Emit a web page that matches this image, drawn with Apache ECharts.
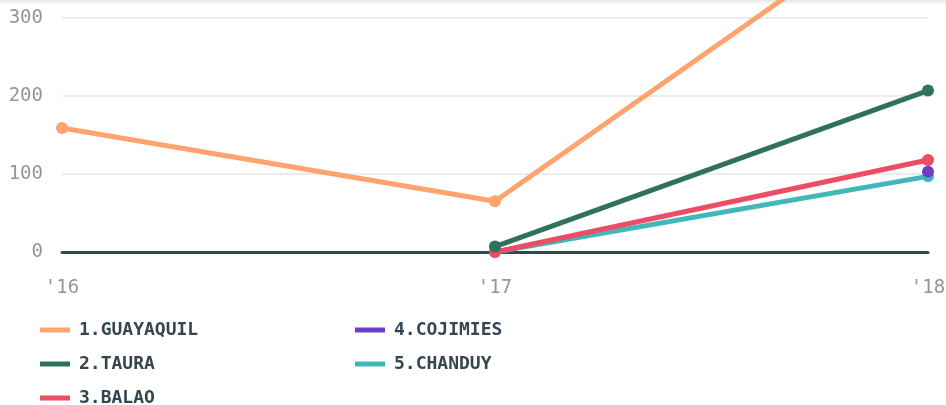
<!DOCTYPE html>
<html>
<head>
<meta charset="utf-8">
<script src="https://cdn.jsdelivr.net/npm/echarts@6/dist/echarts.min.js"></script>
<style>
html, body { margin: 0; padding: 0; background: #fff; }
#main { width: 946px; height: 405px; }
</style>
</head>
<body>
<div id="main"></div>
<script>
var years = ["'16", "'17", "'18"];
var yTicks = [0, 100, 200, 300];
var guayaquil = [159, 65, 455];
var taura = [null, 7, 207];
var balao = [null, 0, 118];
var cojimies = [null, null, 103];
var chanduy = [null, 0, 97];

var myChart = echarts.init(document.getElementById('main'));

function line(name, data, color) {
	return {
		name: name,
		type: 'line',
		data: data,
		clip: false,
		symbol: 'circle',
		symbolSize: 12,
		showAllSymbol: true,
		lineStyle: { width: 5, color: color },
		itemStyle: { color: color }
	};
}

var legendText = {
	color: '#36454f',
	fontFamily: 'DejaVu Sans Mono',
	fontWeight: 'bold',
	fontSize: 18,
	padding: [0, 0, 0, 4]
};

option = {
	animation: false,
	graphic: [
		{
			type: 'rect',
			left: 0,
			top: 0,
			z: -10,
			shape: { width: 946, height: 5 },
			style: {
				fill: new echarts.graphic.LinearGradient(0, 0, 0, 1, [
					{ offset: 0, color: 'rgba(0,0,0,0.10)' },
					{ offset: 1, color: 'rgba(0,0,0,0)' }
				])
			}
		}
	],
	legend: [
		{
			orient: 'vertical',
			left: 40,
			top: 321,
			padding: 0,
			height: 120,
			itemWidth: 30,
			itemHeight: 5,
			itemGap: 16,
			icon: 'rect',
			textStyle: legendText,
			data: ['1.GUAYAQUIL', '2.TAURA', '3.BALAO']
		},
		{
			orient: 'vertical',
			left: 355,
			top: 321,
			padding: 0,
			height: 120,
			itemWidth: 30,
			itemHeight: 5,
			itemGap: 16,
			icon: 'rect',
			textStyle: legendText,
			data: ['4.COJIMIES', '5.CHANDUY']
		}
	],
	grid: {
		left: 62,
		right: 18,
		top: 18,
		bottom: 153,
		outerBoundsMode: 'none'
	},
	xAxis: {
		type: 'category',
		boundaryGap: false,
		data: years,
		axisTick: { show: false },
		axisLine: { lineStyle: { color: '#37474f', width: 3 } },
		axisLabel: {
			margin: 27,
			color: '#8e979c',
			fontFamily: 'DejaVu Sans Mono',
			fontSize: 19
		}
	},
	yAxis: {
		type: 'value',
		min: yTicks[0],
		max: yTicks[yTicks.length - 1],
		interval: 100,
		axisLine: { show: false },
		axisTick: { show: false },
		splitLine: { lineStyle: { color: '#ececec', width: 2 } },
		axisLabel: {
			margin: 19,
			color: '#8e979c',
			fontFamily: 'DejaVu Sans Mono',
			fontSize: 19
		}
	},
	series: [
		line('1.GUAYAQUIL', guayaquil, '#ffa46f'),
		line('5.CHANDUY', chanduy, '#40b8b9'),
		line('4.COJIMIES', cojimies, '#6b3fc8'),
		line('3.BALAO', balao, '#ec4c64'),
		line('2.TAURA', taura, '#2d7259')
	]
};
myChart.setOption(option);
</script>
</body>
</html>
